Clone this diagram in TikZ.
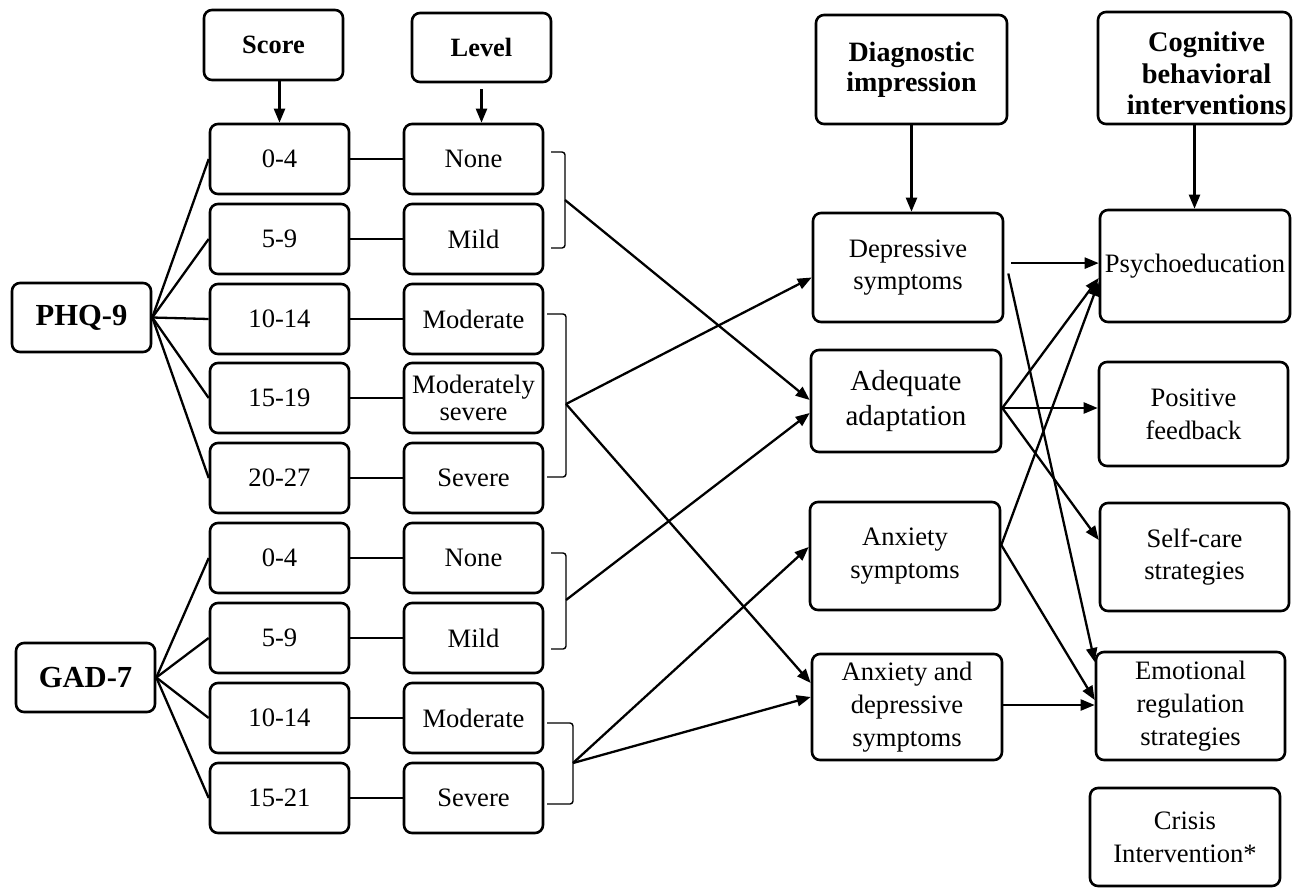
\documentclass[tikz,border=0pt]{standalone}
\usepackage{fontspec}
\setmainfont{Liberation Serif}
\usetikzlibrary{arrows.meta}
\begin{document}
\begin{tikzpicture}[x=0.5pt,y=-0.5pt,
  box/.style={draw, line width=1.3pt, rounded corners=4pt, align=center, inner sep=0pt,
    font=\fontsize{13.3}{16.4}\selectfont},
  colbox/.style={box, minimum width=69.5pt, minimum height=35pt},
  hdr/.style={box, font=\bfseries\fontsize{13.2}{14}\selectfont},
  dbox/.style={box, minimum width=95pt},
  arr/.style={-{Triangle[length=7pt,width=5.5pt]}, line width=1.15pt},
  ln/.style={line width=1.15pt},
  brk/.style={line width=0.7pt, rounded corners=1.5pt}]
\useasboundingbox (0,0) rectangle (1293,894);

% headers
\node[hdr, minimum width=69.5pt, minimum height=35pt] (score) at (273.5,45) {Score};
\node[hdr, minimum width=69.5pt, minimum height=34.5pt] (level) at (481.5,47.5) {Level};
\node[box, minimum width=95.5pt, minimum height=54.5pt, font=\bfseries\fontsize{14}{14.8}\selectfont] (diag) at (911.5,69.5) {Diagnostic\\impression};
\node[box, minimum width=96.5pt, minimum height=56pt, font=\bfseries\fontsize{14.2}{15.7}\selectfont] (cog) at (1194.5,68) {\hspace*{12pt}\raisebox{-4.5pt}[\height][\depth]{\begin{tabular}{@{}c@{}}Cognitive\\behavioral\\interventions\end{tabular}}};

% instruments
\node[box, minimum width=69.5pt, minimum height=34.5pt, font=\bfseries\fontsize{15.3}{16}\selectfont] (phq) at (81.5,317.5) {PHQ-9};
\node[box, minimum width=69.5pt, minimum height=34.5pt, font=\bfseries\fontsize{15.3}{16}\selectfont] (gad) at (85.5,677.5) {GAD-7};

% score column
\node[colbox] (s1) at (279.5,159) {0-4};
\node[colbox] (s2) at (279.5,239) {5-9};
\node[colbox] (s3) at (279.5,319) {10-14};
\node[colbox] (s4) at (279.5,398) {15-19};
\node[colbox] (s5) at (279.5,478) {20-27};
\node[colbox] (s6) at (279.5,558) {0-4};
\node[colbox] (s7) at (279.5,638) {5-9};
\node[colbox] (s8) at (279.5,718) {10-14};
\node[colbox] (s9) at (279.5,798) {15-21};

% level column
\node[colbox] (l1) at (473.5,159) {None};
\node[colbox] (l2) at (473.5,239) {Mild};
\node[colbox] (l3) at (473.5,319) {Moderate};
\node[colbox, font=\fontsize{13.3}{13.8}\selectfont] (l4) at (473.5,398) {Moderately\\severe};
\node[colbox] (l5) at (473.5,478) {Severe};
\node[colbox] (l6) at (473.5,558) {None};
\node[colbox] (l7) at (473.5,638) {Mild};
\node[colbox] (l8) at (473.5,718) {Moderate};
\node[colbox] (l9) at (473.5,798) {Severe};

% diagnostic impressions
\node[dbox, minimum height=54.5pt] (dep) at (908,267.5) {Depressive\\symptoms};
\node[dbox, minimum height=51pt, font=\fontsize{14.5}{17.5}\selectfont] (adq) at (906,401) {Adequate\\adaptation};
\node[dbox, minimum height=54pt] (anx) at (905,556) {Anxiety\\symptoms};
\node[dbox, minimum height=53pt] (ad) at (907,707) {Anxiety and\\depressive\\symptoms};

% interventions
\node[dbox, minimum height=56pt] (psy) at (1195,266) {Psychoeducation};
\node[dbox, minimum width=94.5pt, minimum height=52pt] (pos) at (1193.5,414) {Positive\\feedback};
\node[dbox, minimum width=94.5pt, minimum height=54pt] (self) at (1194.5,557) {Self-care\\strategies};
\node[dbox, minimum width=94.5pt, minimum height=54pt] (emo) at (1190.5,706) {Emotional\\regulation\\strategies};
\node[dbox, minimum height=49pt] (cri) at (1185,837) {Crisis\\Intervention*};

% header arrows
\draw[arr] (score.south -| s1.north) -- (s1.north);
\draw[arr] ([yshift=-3pt]level.south) -- (level.south |- l1.north);
\draw[arr] (diag.south) -- (diag.south |- dep.north);
\draw[arr] (cog.south) -- (cog.south |- psy.north);

% instrument to score lines
\foreach \s in {s1,s2,s3,s4,s5} \draw[ln] (phq.east) -- (\s.west);
\foreach \s in {s6,s7,s8,s9} \draw[ln] (gad.east) -- (\s.west);

% score to level lines
\foreach \i in {1,...,9} \draw[ln] (s\i.east) -- (l\i.west);

% brackets
\draw[brk] (551,152) -- (565,152) -- (565,248) -- (551,248);
\draw[brk] (547,314) -- (566,314) -- (566,477) -- (547,477);
\draw[brk] (551,553) -- (566,553) -- (566,649) -- (551,649);
\draw[brk] (547,723) -- (573,723) -- (573,804) -- (547,804);
\coordinate (b1) at (565,200);
\coordinate (b2) at (566,404);
\coordinate (b3) at (566,600);
\coordinate (b4) at (573,763);

% level groups to impressions
\draw[arr] (b1) -- ([yshift=0.5pt]adq.west);
\draw[arr] (b2) -- ([yshift=-5pt]dep.west);
\draw[arr] (b2) -- ([yshift=12pt]ad.west);
\draw[arr] (b3) -- ([yshift=-6pt]adq.west);
\draw[arr] (b4) -- ([yshift=4.5pt]anx.west);
\draw[arr] (b4) -- ([yshift=5pt]ad.west);

% impressions to interventions
\coordinate (depA) at ([xshift=3.5pt,yshift=2.2pt]dep.east);
\coordinate (depB) at ([xshift=2pt,yshift=-3pt]dep.east);
\coordinate (adqA) at ([yshift=-3.5pt]adq.east);
\coordinate (anxA) at ([yshift=5.5pt]anx.east);
\draw[arr] (depA) -- (depA -| psy.west);
\draw[arr] (depB) -- ([yshift=22pt]emo.west);
\draw[arr] (adqA) -- ([yshift=-6pt]psy.west);
\draw[arr] (adqA) -- (adqA -| pos.west);
\draw[arr] (adqA) -- ([yshift=8.5pt]self.west);
\draw[arr] (anxA) -- ([yshift=-8pt]psy.west);
\draw[arr] (anxA) -- ([yshift=3pt]emo.west);
\draw[arr] ([yshift=1pt]ad.east) -- ([yshift=1pt]ad.east -| emo.west);
\end{tikzpicture}
\end{document}
